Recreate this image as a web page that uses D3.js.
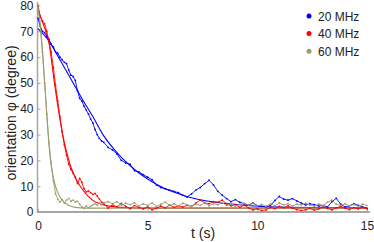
<!DOCTYPE html>
<html>
<head>
<meta charset="utf-8">
<style>
  body { margin: 0; background: #fff; }
  svg { font-family: "Liberation Sans", Arial, sans-serif; }
  .axis path, .axis line { stroke: #a6a6a6; }
  .axis text { fill: #222; font-size: 12px; }
</style>
<script src="https://cdnjs.cloudflare.com/ajax/libs/d3/7.8.5/d3.min.js"></script>
</head>
<body>
<div id="chart"></div>
<script>
const width = 374, height = 242;

// measured time grid (s)
const tData = [0,0.1,0.2,0.3,0.4,0.5,0.6,0.7,0.8,0.9,1.0,1.1,1.2,1.3,1.4,1.5,1.6,1.7,1.8,1.9,
  2.0,2.1,2.2,2.3,2.4,2.5,2.6,2.7,2.8,2.9,3.0,3.2,3.4,3.6,3.8,4.0,4.2,4.4,4.6,4.8,
  5.0,5.2,5.4,5.6,5.8,6.0,6.2,6.4,6.6,6.8,7.0,7.2,7.4,7.6,7.8,8.0,8.2,8.4,8.6,8.8,
  9.0,9.2,9.4,9.6,9.8,10.0,10.2,10.4,10.6,10.8,11.0,11.2,11.4,11.6,11.8,12.0,12.2,12.4,12.6,12.8,
  13.0,13.2,13.4,13.6,13.8,14.0,14.2,14.4,14.6,14.8,15.0];

const blue20 = [75,72,70,69.5,68,67,65,64,62,61.5,60,59,58,57.5,55,53,52.5,51,47,44,
  43,41,39.5,38,36,34.5,32,30,28.5,27.5,27,25,24,22.5,20,19,18.5,16,15.5,14.5,
  13.5,12.5,10.5,9.5,9,8.5,8,7.5,6.5,5.8,7,8.5,9.5,11,12.3,10.5,8,6.5,5.2,4,
  4.8,3.8,3.2,2.7,3.5,2.5,2.2,2.0,2.5,4.5,6,5,4.6,5.2,4.3,3.5,2.7,3.2,2.8,2.3,
  2.5,2.0,4,5.3,3,2,2.4,3.2,2.6,2,1.4];

const red40 = [80,76,74,73,70,66,62,56,49,43,37,31,26,22,18.5,16.5,15,13.5,11,13,
  11.5,9,7.8,8.2,7.5,6.8,7.2,6.2,5,3.8,3.2,1.5,2.8,2,3.3,2.2,1.3,2.5,1.8,1.2,
  2,0.8,1.5,2.3,1.6,2.7,1.8,2.4,1.9,2.6,2.2,3.5,4.6,3.6,3.2,4,3.8,4.6,3.2,2.4,
  2.9,1.8,2.7,1.6,0.8,1.2,0.6,0.8,1.8,1.3,2.2,1.6,2.4,1.5,0.9,0.6,0.8,1.4,0.7,1.2,
  2,1.4,0.8,1.6,2.2,1.5,0.9,1.7,1.2,1.8,1.3];

const olive60 = [80,72,62,50,38,27,19,12,7,5,3.8,4.8,3.5,4.6,5.3,4.2,4.6,3.8,4.2,3,
  2,1.4,2.4,1.6,2.2,2.8,3.3,2.6,3.4,2.8,3.6,4,3.2,4,2.6,3.4,2.8,3.6,2.4,3.2,
  2.6,3.5,2.2,3,3.8,2.6,3.2,2.4,3.4,2.8,2.2,3,2.6,3.5,2.4,3.2,2.8,3.6,2.5,3.1,
  2.2,3,3.4,2.6,3.3,2.4,2.9,2.2,3.2,2.5,3.5,2.8,3.2,2.4,3,2.7,3.4,2.6,2.2,3.1,
  2.5,3.8,4.6,3,2.6,3.2,2.4,2.9,2.2,3,2.5];

// fitted curves
const tFitBlue = [0,0.5,1.0,1.5,2.0,2.5,3.0,3.5,4.0,4.5,5.0,5.5,6,6.5,7,8,9,10,11,13,15];
const fitBlue  = [71,66.2,59,51.5,44,37,29.5,24,19.5,15.8,12.8,10.3,8.3,6.8,5.5,3.9,2.9,2.2,1.9,1.7,1.6];
const tFitRed  = [0,0.25,0.5,0.75,1.0,1.25,1.5,1.75,2.0,2.5,3.0,3.5,4,5,15];
const fitRed   = [78,72.5,65.5,50,36,25,17.5,12.5,9,4.5,2.7,2,1.7,1.5,1.5];
const tFitOlive = [0,0.1,0.2,0.3,0.4,0.5,0.6,0.75,0.9,1.1,1.4,1.7,2.2,15];
const fitOlive  = [79.6,73,63,51,38,26,18,11.5,7.5,4.6,2.6,1.8,1.5,1.5];

const seriesNames = ["20 MHz", "40 MHz", "60 MHz"];
const colors = ["#0000ff", "#ff0000", "#9c9c6c"];
const xTicks = [0, 5, 10, 15];
const yTicks = [0, 10, 20, 30, 40, 50, 60, 70, 80];

const x = d3.scaleLinear().domain([0, 15]).range([38, 367]);
const y = d3.scaleLinear().domain([0, 80]).range([212, 5.5]);

const svg = d3.select("#chart").append("svg")
  .attr("width", width).attr("height", height);

// axes
const xAxis = svg.append("g").attr("class", "axis")
  .attr("transform", "translate(0,212)")
  .call(d3.axisBottom(x).tickValues(xTicks).tickSize(-3).tickPadding(6).tickSizeOuter(0));
xAxis.select(".domain").attr("d", "M37,0H370").attr("stroke-width", 2);
xAxis.selectAll("text").attr("dy", "1.0em");

const yAxis = svg.append("g").attr("class", "axis")
  .attr("transform", "translate(37.5,0)")
  .call(d3.axisLeft(y).tickValues(yTicks).tickSize(-3).tickPadding(4).tickSizeOuter(0));
yAxis.select(".domain").attr("d", "M0,213V2").attr("stroke-width", 1.5);

const dataSets = [blue20, red40, olive60];
const fits = [[tFitBlue, fitBlue], [tFitRed, fitRed], [tFitOlive, fitOlive]];

const fitLine = d3.line().curve(d3.curveMonotoneX);
const dataLine = d3.line();

// fit curves
fits.forEach(function(f, i) {
  const pts = f[0].map(function(t, j) { return [x(t), y(f[1][j])]; });
  svg.append("path")
    .attr("d", fitLine(pts))
    .attr("fill", "none")
    .attr("stroke", colors[i])
    .attr("stroke-width", 1.1);
});

// measured data
dataSets.forEach(function(vals, i) {
  const pts = tData.map(function(t, j) { return [x(t), y(vals[j])]; });
  svg.append("path")
    .attr("d", dataLine(pts))
    .attr("fill", "none")
    .attr("stroke", colors[i])
    .attr("stroke-width", 0.9);
  svg.append("g").selectAll("circle")
    .data(pts).join("circle")
    .attr("cx", function(d) { return d[0]; })
    .attr("cy", function(d) { return d[1]; })
    .attr("r", 0.9)
    .attr("fill", colors[i]);
});

// axis titles
svg.append("text")
  .attr("transform", "translate(16,113) rotate(-90)")
  .attr("text-anchor", "middle")
  .attr("fill", "#222")
  .style("font-size", "14px")
  .text("orientation φ (degree)");

svg.append("text")
  .attr("x", 203).attr("y", 238)
  .attr("text-anchor", "middle")
  .attr("fill", "#222")
  .style("font-size", "14px")
  .text("t (s)");

// legend
const legend = svg.append("g").selectAll("g")
  .data(seriesNames).join("g")
  .attr("transform", function(d, i) { return "translate(309," + (16 + i * 17.6) + ")"; });
legend.append("circle").attr("r", 2.5).attr("fill", function(d, i) { return colors[i]; });
legend.append("text").attr("x", 9).attr("y", 4.5)
  .attr("fill", "#222").style("font-size", "12px")
  .text(function(d) { return d; });
</script>
</body>
</html>
